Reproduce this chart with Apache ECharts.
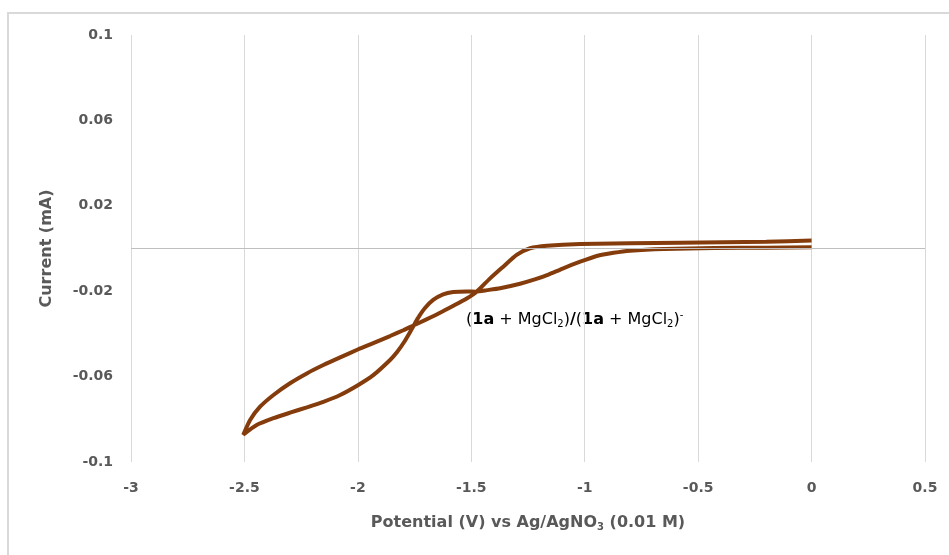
<!DOCTYPE html>
<html>
<head>
<meta charset="utf-8">
<script src="https://cdn.jsdelivr.net/npm/echarts@6/dist/echarts.min.js"></script>
<style>
  html, body { margin: 0; padding: 0; background: #fff; }
  #chart { width: 949px; height: 555px; }
</style>
</head>
<body>
<div id="chart"></div>
<script>
// cyclic voltammogram
// scan out: 0 V -> -2.5 V (lower branch)
const outPotential = [0, -0.2, -0.43, -0.65, -0.8, -0.873, -0.947, -1.02, -1.1, -1.16, -1.22, -1.285,
  -1.373, -1.43, -1.479, -1.52, -1.58, -1.624, -1.668, -1.704, -1.735, -1.765, -1.796, -1.827,
  -1.858, -1.932, -1.998, -2.078, -2.152, -2.225, -2.299, -2.372, -2.446, -2.505]
const outCurrent = [0.0006, 0.0004, 0.0002, -0.0002, -0.001, -0.002, -0.0035, -0.0062, -0.0095, -0.0122, -0.0145, -0.0165,
  -0.0186, -0.0195, -0.0202, -0.0201, -0.0204, -0.0215, -0.0241, -0.0279, -0.0326, -0.0382, -0.0438, -0.0485,
  -0.0522, -0.0593, -0.0639, -0.0686, -0.0718, -0.0744, -0.0769, -0.0795, -0.0827, -0.0872]
// scan back: -2.5 V -> 0 V (upper branch)
const backPotential = [-2.505, -2.475, -2.431, -2.372, -2.299, -2.225, -2.152, -2.078, -1.998, -1.932, -1.858, -1.8,
  -1.758, -1.7, -1.64, -1.579, -1.52, -1.479, -1.417, -1.359, -1.3, -1.241, -1.167, -1.02, -0.579, -0.2, 0]
const backCurrent = [-0.0872, -0.0803, -0.0741, -0.0686, -0.0631, -0.0585, -0.0546, -0.051, -0.0472, -0.0443, -0.041, -0.0383,
  -0.0362, -0.0333, -0.0302, -0.0268, -0.0234, -0.0205, -0.014, -0.0085, -0.003, 0.0001, 0.0013, 0.0021, 0.0027, 0.0032, 0.0037]

const xTicks = { min: -3, max: 0.5, step: 0.5 }
const yTicks = { min: -0.1, max: 0.1, step: 0.04 }

const loop = outPotential.map((v, i) => [v, outCurrent[i]])
  .concat(backPotential.slice(1).map((v, i) => [v, backCurrent[i + 1]]))

const gray = '#595959'
const font = '"DejaVu Sans", "Noto Sans", sans-serif'

let chart = echarts.init(document.getElementById('chart'))

chart.setOption({
  animation: false,
  backgroundColor: '#fff',
  grid: { left: 131, right: 24, top: 35, bottom: 93 },
  xAxis: {
    type: 'value',
    min: xTicks.min, max: xTicks.max, interval: xTicks.step,
    axisLine: { show: false },
    axisTick: { show: false },
    splitLine: { show: true, lineStyle: { color: '#d9d9d9', width: 1 } },
    axisLabel: { color: gray, fontFamily: font, fontSize: 14, fontWeight: 'bold', margin: 19 },
    name: '{t|Potential (V) vs Ag/AgNO}{s|3}{t| (0.01 M)}',
    nameLocation: 'middle',
    nameGap: 51,
    nameTextStyle: {
      rich: {
        t: { color: gray, fontFamily: font, fontSize: 16, fontWeight: 'bold' },
        s: { color: gray, fontFamily: font, fontSize: 10, fontWeight: 'bold', verticalAlign: 'bottom', padding: [9, 0, 0, 0] }
      }
    }
  },
  yAxis: {
    type: 'value',
    min: yTicks.min, max: yTicks.max, interval: yTicks.step,
    axisLine: { show: false },
    axisTick: { show: false },
    splitLine: { show: false },
    axisLabel: {
      color: gray, fontFamily: font, fontSize: 14, fontWeight: 'bold', margin: 18,
      formatter: v => String(+v.toFixed(2))
    },
    name: 'Current (mA)',
    nameLocation: 'middle',
    nameGap: 76,
    nameTextStyle: { color: gray, fontFamily: font, fontSize: 16, fontWeight: 'bold' }
  },
  series: [{
    type: 'line',
    data: loop,
    showSymbol: false,
    smooth: 0.2,
    lineStyle: { color: '#843c0c', width: 4 },
    markLine: {
      silent: true,
      symbol: 'none',
      label: { show: false },
      lineStyle: { color: '#bfbfbf', width: 1, type: 'solid' },
      data: [{ yAxis: 0 }]
    },
    z: 3
  }],
  graphic: [
    {
      type: 'rect',
      shape: { x: 8, y: 13, width: 1000, height: 600 },
      style: { fill: 'none', stroke: '#d9d9d9', lineWidth: 2 },
      silent: true
    },
    {
      type: 'text',
      left: 466,
      top: 310,
      style: {
        text: '{p|(}{b|1a}{p| + MgCl}{s|2}{p|)}{b|/}{p|(}{b|1a}{p| + MgCl}{s|2}{p|)}{u|-}',
        rich: {
          p: { fill: '#000', fontFamily: font, fontSize: 16 },
          b: { fill: '#000', fontFamily: font, fontSize: 16, fontWeight: 'bold' },
          s: { fill: '#000', fontFamily: font, fontSize: 10, verticalAlign: 'bottom', padding: [9, 0, 0, 0] },
          u: { fill: '#000', fontFamily: font, fontSize: 10, verticalAlign: 'top' }
        }
      }
    }
  ]
})
</script>
</body>
</html>
